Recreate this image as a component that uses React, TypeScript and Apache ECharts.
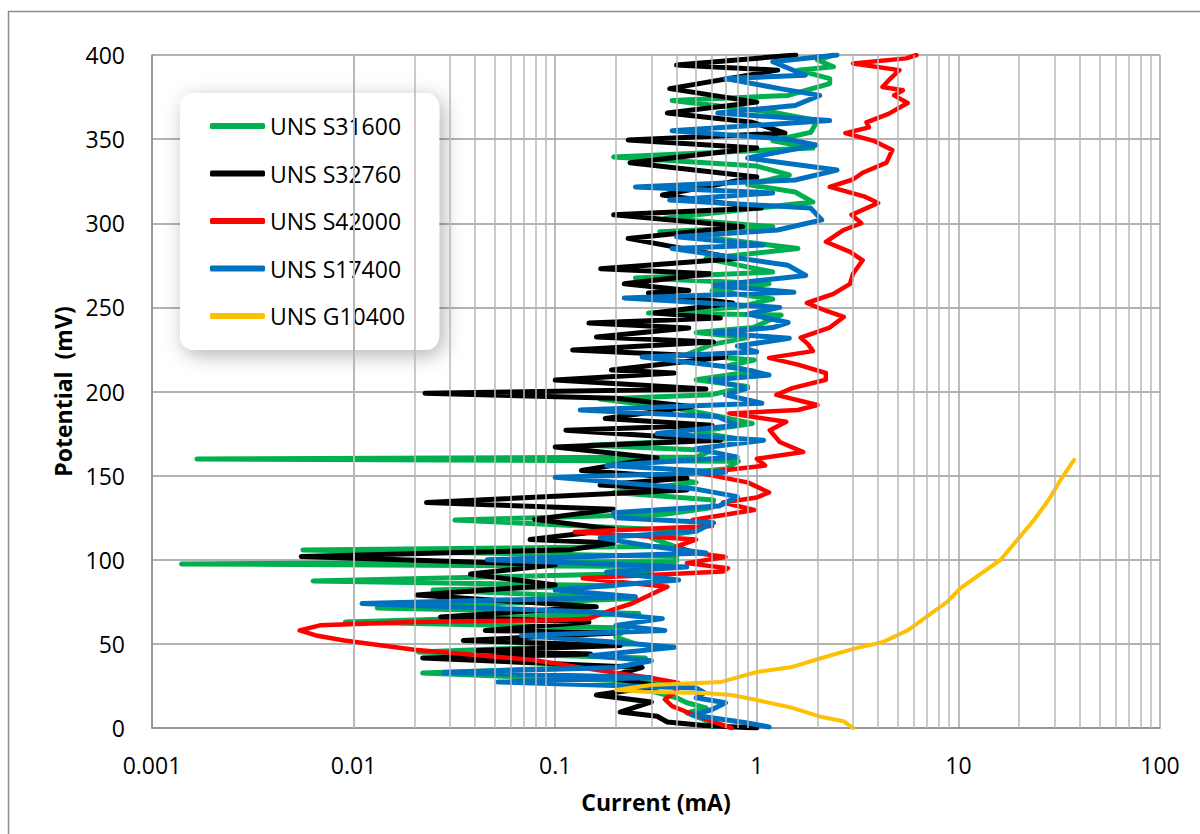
import React, { useEffect, useRef } from "react";
import * as echarts from "echarts";

const seriesNames = ["UNS S31600", "UNS S32760", "UNS S42000", "UNS S17400", "UNS G10400"];
const seriesColors = ["#00B050", "#000000", "#FF0000", "#0070C0", "#FFC000"];
const seriesWidths = [5, 5, 4.5, 5, 4];

// [current (mA), potential (mV)]
const s31600: [number, number][] = [
  [0.6, 1], [0.55, 5], [0.45, 9], [0.56, 12], [0.45, 15], [0.4, 18], [0.3, 22], [0.35, 27],
  [0.022, 32.7], [0.25, 37], [0.28, 41.6], [0.021, 45.2], [0.25, 50], [0.2, 54], [0.23, 59.4],
  [0.0091, 63], [0.26, 68], [0.0131, 71.3], [0.25, 77], [0.0248, 82], [0.2, 84.5], [0.0063, 87.4],
  [0.3, 92], [0.3, 96], [0.0014, 97.5], [0.4, 99], [0.4, 102], [0.0056, 105.8], [0.39, 108], [0.3, 113],
  [0.5, 117], [0.0318, 123.6], [0.35, 127], [0.6, 131], [0.61, 135.5], [0.195, 140], [0.5, 146],
  [0.3, 150], [0.7, 154], [0.81, 158.5], [0.00167, 159.9], [0.5, 161], [0.6, 165], [0.147, 168],
  [0.8, 172], [0.5, 176], [0.95, 181], [0.6, 186], [0.4, 190], [0.167, 195.5], [0.59, 198],
  [0.9, 203], [0.5, 207], [0.97, 212], [0.7, 215], [0.97, 218.7], [0.45, 222], [0.6, 228],
  [0.9, 232], [0.5, 235], [0.96, 238], [1.32, 245.5], [0.29, 246.6], [0.8, 250], [1.2, 255],
  [0.6, 260], [1.15, 264], [0.25, 267.5], [1.2, 271], [0.56, 279], [1.6, 285], [0.33, 295],
  [1.2, 298], [0.35, 303], [1.9, 312.6], [1.55, 318.6], [0.9, 323], [1.45, 328.7], [1.0, 334],
  [0.195, 339.4], [1.9, 344.7], [1.2, 349], [1.85, 354], [2.0, 361], [1.2, 366], [0.38, 373],
  [1.43, 376], [2.3, 383], [2.3, 386], [1.6, 391], [2.4, 393], [2.0, 397], [2.4, 400],
];

const s32760: [number, number][] = [
  [1.0, 0], [0.55, 1.5], [0.36, 3.6], [0.32, 7], [0.21, 9.5], [0.3, 15.5], [0.16, 19.6], [0.33, 25],
  [0.18, 30], [0.27, 36], [0.022, 41.6], [0.15, 44], [0.041, 46], [0.21, 49], [0.035, 52],
  [0.2, 56.5], [0.045, 58], [0.147, 63], [0.027, 66], [0.16, 72], [0.0206, 79], [0.1, 85],
  [0.038, 91.5], [0.1, 97], [0.0055, 102], [0.12, 106], [0.195, 110], [0.075, 112], [0.2, 118],
  [0.079, 124], [0.195, 130], [0.023, 134], [0.45, 141.5], [0.167, 144.4], [0.45, 148.6],
  [0.135, 153], [0.32, 160.5], [0.1, 167], [0.66, 171], [0.113, 177], [0.6, 180], [0.177, 184],
  [0.48, 191], [0.2, 196], [0.0226, 199], [0.56, 201.5], [0.1, 206.8], [0.39, 211], [0.19, 212.8],
  [0.7, 220.5], [0.122, 224.7], [0.61, 229.4], [0.16, 232.4], [0.46, 237.7], [0.147, 240.7],
  [0.66, 243.7], [0.31, 246.6], [0.76, 252.6], [0.29, 258.5], [0.46, 260], [0.22, 264],
  [0.59, 270], [0.168, 273], [0.8, 279], [0.23, 291], [0.85, 298], [0.195, 305], [1.05, 309],
  [0.34, 316.8], [1.0, 327.5], [0.235, 336], [1.0, 344.7], [0.23, 349.5], [1.38, 353.6],
  [0.95, 360], [0.36, 365.5], [1.0, 372], [0.37, 380], [1.27, 391], [0.4, 394], [1.56, 400],
];

const s42000: [number, number][] = [
  [0.75, 0], [0.6, 4], [0.45, 9.5], [0.38, 13], [0.35, 17], [0.38, 20], [0.41, 24], [0.41, 26.7],
  [0.3, 29.7], [0.15, 35], [0.078, 40.4], [0.02, 46.5], [0.009, 52], [0.0065, 55], [0.0054, 58],
  [0.0068, 61], [0.02, 63], [0.095, 64], [0.147, 65], [0.19, 70], [0.24, 74], [0.36, 84],
  [0.137, 89], [0.68, 93], [0.72, 95], [0.45, 98], [0.7, 101.6], [0.5, 104], [0.4, 108],
  [0.5, 112], [0.125, 116.5], [0.6, 120], [0.48, 123.6], [0.97, 129.6], [0.68, 134], [1.0, 137],
  [1.15, 140], [0.9, 146], [0.52, 151.5], [1.1, 156], [1.0, 160], [1.7, 164], [1.3, 170],
  [1.16, 177], [1.4, 182], [0.73, 187], [1.6, 189], [2.0, 192], [1.25, 198], [1.5, 202],
  [2.2, 207], [2.2, 211], [1.6, 216], [1.15, 220], [1.9, 224], [1.8, 228], [1.65, 232], [2.3, 238],
  [2.7, 244.3], [2.2, 248], [1.77, 252.6], [2.4, 258], [2.9, 264], [3.0, 270], [3.35, 278],
  [2.9, 283], [2.2, 289], [2.7, 296], [3.3, 300], [2.95, 305], [4.0, 312], [3.4, 316], [2.3, 321.6],
  [3.0, 326], [3.35, 330], [4.4, 336], [4.7, 343.5], [3.8, 349], [2.75, 353.6], [3.6, 357],
  [3.5, 360], [4.5, 365], [5.6, 371.5], [4.8, 376], [5.3, 379], [4.2, 381], [4.6, 386], [5.1, 391],
  [3.0, 395], [5.5, 398], [6.2, 400],
];

const s17400: [number, number][] = [
  [1.15, 0.6], [0.9, 3], [0.48, 7.7], [0.6, 11], [0.7, 15], [0.5, 18], [0.55, 21], [0.5, 23.8],
  [0.052, 27.3], [0.3, 30], [0.028, 33], [0.2, 36], [0.3, 40], [0.15, 43], [0.39, 48], [0.2, 51],
  [0.068, 55], [0.35, 58], [0.2, 61], [0.34, 65], [0.15, 69], [0.011, 74], [0.25, 78], [0.1, 82],
  [0.41, 88], [0.18, 92.7], [0.45, 95.7], [0.046, 100], [0.56, 104], [0.3, 108], [0.167, 113],
  [0.5, 117], [0.61, 122], [0.2, 125], [0.195, 128], [0.65, 132], [0.8, 137.5], [0.5, 142],
  [0.1, 149], [0.7, 152], [0.18, 156], [0.8, 161], [0.5, 166], [1.08, 171], [0.32, 175], [0.8, 180],
  [0.64, 185], [0.133, 189], [1.06, 193], [0.7, 198], [0.9, 202], [0.59, 206.8], [1.15, 209.8],
  [0.8, 214], [0.27, 220.5], [1.0, 223.5], [0.8, 227], [1.45, 231.6], [0.61, 235], [1.2, 238],
  [1.43, 241], [0.9, 246], [1.3, 250], [0.22, 255.6], [1.53, 259], [0.61, 263], [1.75, 269],
  [1.43, 275], [0.38, 285], [1.08, 287], [0.4, 292], [1.27, 296], [2.1, 302], [1.85, 309],
  [0.37, 313.8], [1.2, 318], [0.25, 321.6], [1.55, 325.7], [2.5, 331.6], [0.9, 338.8],
  [1.97, 346.5], [1.4, 350], [0.38, 355], [2.3, 361], [0.64, 365.5], [1.55, 370], [2.05, 376],
  [1.3, 380], [0.7, 386], [1.74, 388], [1.2, 396], [2.5, 400],
];

const g10400: [number, number][] = [
  [3.0, 0], [2.7, 4], [2.1, 6.5], [1.5, 12], [1.0, 16.6], [0.75, 19.6], [0.55, 20.8], [0.3, 21.4],
  [0.2, 22.6], [0.3, 25.6], [0.66, 27.3], [1.0, 33.3], [1.5, 36.3], [2.1, 41.6], [3.1, 47.5],
  [4.2, 51], [5.6, 58], [7.1, 67], [8.8, 75], [10.2, 83], [16.2, 100], [23.7, 123.6], [28.0, 135.5],
  [32.1, 147.4], [37.5, 159.3],
];

const seriesData = [s31600, s32760, s42000, s17400, g10400];

const xMin = 0.001;
const xMax = 100;
const yMin = 0;
const yMax = 400;
const yStep = 50;

const decades = [0.001, 0.01, 0.1, 1, 10];
const minorMultipliers = [2, 3, 4, 5, 6, 7, 8, 9];

export default function App() {
  const ref = useRef<HTMLDivElement>(null);
  useEffect(() => {
    document.body.style.margin = "0";
    if (!ref.current) return;
    const chart = echarts.init(ref.current, undefined, { renderer: "svg" });
    const minorLines: { xAxis: number }[] = [];
    decades.forEach((d) => minorMultipliers.forEach((m) => minorLines.push({ xAxis: +(d * m).toPrecision(3) })));
    const font = "'Open Sans', sans-serif";
    const lineSeries = seriesNames.map((name, i) => ({
      name,
      type: "line",
      data: seriesData[i],
      showSymbol: false,
      symbol: "none",
      smooth: false,
      silent: true,
      itemStyle: { color: seriesColors[i] },
      lineStyle: { color: seriesColors[i], width: seriesWidths[i], cap: "round", join: "round" },
      z: 3,
    }));
    chart.setOption({
      animation: false,
      backgroundColor: "#ffffff",
      textStyle: { fontFamily: font },
      grid: { left: 152, right: 40, top: 55, bottom: 106 },
      xAxis: {
        type: "log",
        logBase: 10,
        min: xMin,
        max: xMax,
        name: "Current (mA)",
        nameLocation: "middle",
        nameGap: 62,
        nameTextStyle: { fontSize: 23, fontWeight: "bold", color: "#000", fontFamily: font },
        axisLine: { show: true, lineStyle: { color: "#8c8c8c", width: 1.5 } },
        axisTick: { show: false },
        axisLabel: { fontSize: 23, color: "#000", margin: 25, fontFamily: font },
        splitLine: { show: true, lineStyle: { color: "#a6a6a6", width: 1.5 } },
      },
      yAxis: {
        type: "value",
        min: yMin,
        max: yMax,
        interval: yStep,
        name: "Potential  (mV)",
        nameLocation: "middle",
        nameRotate: 90,
        nameGap: 78,
        nameTextStyle: { fontSize: 23, fontWeight: "bold", color: "#000", fontFamily: font },
        axisLine: { show: true, lineStyle: { color: "#8c8c8c", width: 1.5 } },
        axisTick: { show: false },
        axisLabel: { fontSize: 23, color: "#000", margin: 27, fontFamily: font },
        splitLine: { show: true, lineStyle: { color: "#9a9a9a", width: 1.5 } },
      },
      legend: {
        data: seriesNames,
        orient: "vertical",
        left: 180,
        top: 93,
        padding: [21, 34, 22, 30],
        itemWidth: 55,
        itemHeight: 6,
        itemGap: 23.5,
        icon: "roundRect",
        backgroundColor: "#ffffff",
        borderRadius: 14,
        shadowBlur: 20,
        shadowColor: "rgba(0,0,0,0.3)",
        shadowOffsetX: 4,
        shadowOffsetY: 5,
        selectedMode: false,
        textStyle: { fontSize: 23, lineHeight: 24, color: "#000", fontFamily: font },
      },
      graphic: [
        {
          type: "rect",
          silent: true,
          shape: { x: 8.5, y: 11.5, width: 1400, height: 1000 },
          style: { fill: "none", stroke: "#8c8c8c", lineWidth: 1.5 },
        },
      ],
      series: [
        {
          name: "grid-minor",
          type: "line",
          data: [],
          silent: true,
          z: 1,
          markLine: {
            silent: true,
            symbol: ["none", "none"],
            label: { show: false },
            lineStyle: { color: "#b8b8b8", width: 1.5, type: "solid" },
            emphasis: { disabled: true },
            animation: false,
            data: minorLines,
          },
        },
        ...lineSeries,
      ],
    });
    return () => chart.dispose();
  }, []);
  return <div ref={ref} style={{ position: "absolute", left: 0, top: 0, width: 1200, height: 834 }} />;
}
